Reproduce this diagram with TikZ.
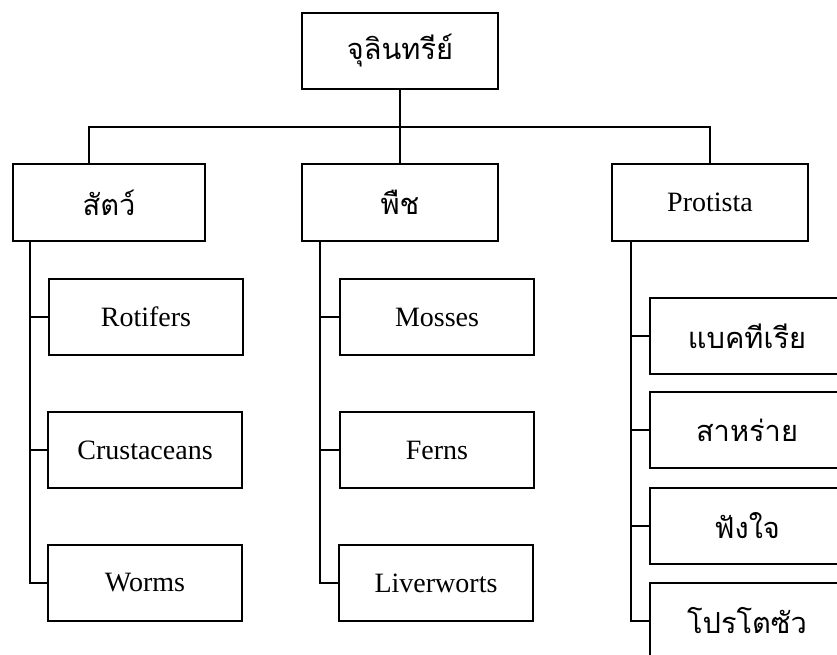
\documentclass[tikz,border=0pt]{standalone}
\usepackage{fontspec}
\setmainfont{Liberation Serif}
\newfontfamily\thaifont[Script=Thai]{Loma}
\begin{document}
\begin{tikzpicture}[x=1pt,y=-1pt,
  box/.style={draw, line width=2pt, minimum width=194pt, minimum height=76pt, inner sep=0pt, font=\fontsize{28}{30}\selectfont},
  thai/.style={font=\thaifont\fontsize{29}{34}\selectfont},
  link/.style={line width=2pt}]
\useasboundingbox (0,0) rectangle (837,654);
\clip (0,0) rectangle (837,654);
% root and level 2
\node[box,thai,minimum width=196pt] (root) at (400,51) {จุลินทรีย์};
\node[box,thai,minimum width=192pt,minimum height=77pt] (animal) at (109,202.5) {สัตว์};
\node[box,thai,minimum width=196pt,minimum height=77pt] (plant) at (400,202.5) {พืช};
\node[box,minimum width=196pt,minimum height=77pt] (prot) at (710,202.5) {Protista};
% level 3, column 1
\node[box] (rot) at (146,317) {Rotifers};
\node[box] (cru) at (145,450) {Crustaceans};
\node[box] (wor) at (145,583) {Worms};
% column 2
\node[box] (mos) at (437,317) {Mosses};
\node[box] (fer) at (437,450) {Ferns};
\node[box] (liv) at (436,583) {Liverworts};
% column 3
\node[box,thai] (bac) at (747,336) {แบคทีเรีย};
\node[box,thai] (alg) at (747,430) {สาหร่าย};
\node[box,thai] (fun) at (747,525.5) {ฟังใจ};
\node[box,thai] (pro) at (747,621) {โปรโตซัว};
% connectors
\coordinate (hl) at (89,127);
\coordinate (hr) at (710,127);
\draw[link] (root.south) -- (plant.north);
\draw[link] (animal.north -| hl) -- (hl) -- (hr) -- (prot.north);
\coordinate (t1) at (30,0);
\coordinate (t2) at (320,0);
\coordinate (t3) at (631,0);
\draw[link] (animal.south -| t1) -- (t1 |- wor.west) -- (wor.west);
\draw[link] (t1 |- rot.west) -- (rot.west);
\draw[link] (t1 |- cru.west) -- (cru.west);
\draw[link] (plant.south -| t2) -- (t2 |- liv.west) -- (liv.west);
\draw[link] (t2 |- mos.west) -- (mos.west);
\draw[link] (t2 |- fer.west) -- (fer.west);
\draw[link] (prot.south -| t3) -- (t3 |- pro.west) -- (pro.west);
\draw[link] (t3 |- bac.west) -- (bac.west);
\draw[link] (t3 |- alg.west) -- (alg.west);
\draw[link] (t3 |- fun.west) -- (fun.west);
\end{tikzpicture}
\end{document}
